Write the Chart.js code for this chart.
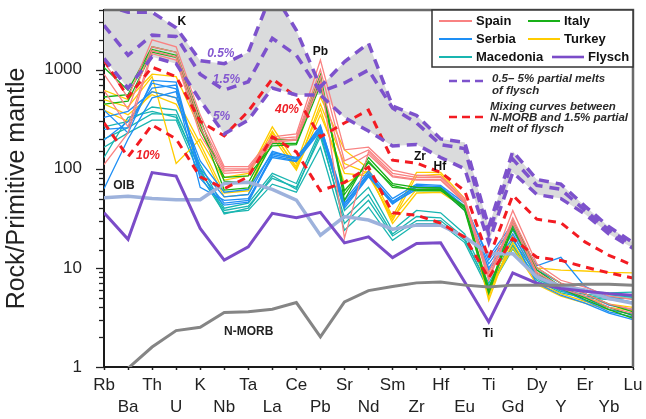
<!DOCTYPE html>
<html>
<head>
<meta charset="utf-8">
<script src="https://cdn.jsdelivr.net/npm/chart.js@4.4.1/dist/chart.umd.min.js"></script>
<style>
  html, body { margin: 0; padding: 0; background: #ffffff; }
  #wrap { width: 646px; height: 419px; }
</style>
</head>
<body>
<div id="wrap"><canvas id="spider" width="646" height="419"></canvas></div>
<script>
// Element order of the primitive-mantle normalised spider diagram
const elements = ['Rb','Ba','Th','U','K','Nb','Ta','La','Ce','Pb','Sr','Nd','Sm','Zr','Hf','Eu','Ti','Gd','Dy','Y','Er','Yb','Lu'];
const yTickLabels = [1, 10, 100, 1000];

// Sample analyses (Rock / Primitive mantle)
const spain = [
  [1200, 520, 2000, 1700, 350, 105, 105, 210, 225, 1250, 155, 165, 97, 86, 84, 50, 8.8, 38, 11, 7.5, 6.4, 5.2, 4.8],
  [900, 400, 1700, 1500, 300, 100, 100, 200, 210, 1000, 120, 155, 90, 82, 82, 48, 8, 32, 10, 7, 6, 4.8, 4.4],
  [620, 265, 1550, 1350, 260, 95, 98, 190, 200, 850, 20, 148, 85, 78, 78, 46, 7.5, 30, 9, 6.5, 5.5, 4.3, 3.8],
  [110, 230, 1450, 1250, 220, 90, 93, 185, 195, 740, 100, 140, 83, 77, 77, 45, 8.2, 28, 8.5, 6.2, 5.2, 4, 3.5]
];
const italy = [
  [1050, 620, 1700, 1500, 320, 75, 72, 200, 195, 890, 48, 130, 71, 65, 64, 40, 5.9, 30, 10, 7, 5.5, 4.3, 3.6],
  [530, 560, 1600, 1400, 280, 61, 64, 180, 180, 800, 55, 120, 65, 62, 62, 38, 5.5, 27, 9.5, 6.5, 5, 4, 3.3],
  [450, 480, 1500, 1330, 250, 82, 85, 170, 175, 700, 60, 115, 68, 60, 60, 42, 6.2, 25, 9, 6.2, 4.8, 3.8, 3.1]
];
const serbia = [
  [390, 230, 780, 750, 90, 45, 48, 140, 125, 275, 45, 90, 46, 68, 66, 42, 13, 28, 10.5, 12.8, 6.5, 5, 4.5],
  [195, 300, 650, 700, 80, 43, 46, 135, 120, 250, 42, 85, 44, 65, 64, 40, 11, 24, 8.5, 6.2, 5, 3.8, 3.4],
  [63, 200, 520, 600, 65, 48, 50, 130, 118, 240, 40, 83, 45, 62, 62, 38, 9.5, 20, 7, 5.3, 4.4, 3.5, 3],
  [330, 380, 600, 520, 120, 58, 62, 145, 130, 265, 48, 95, 50, 70, 68, 45, 12, 26, 9.5, 7, 5.5, 4.2, 3.8],
  [250, 260, 730, 640, 100, 52, 55, 150, 127, 255, 44, 88, 47, 66, 65, 41, 10, 22, 8, 6, 4.7, 3.6, 3.2]
];
const turkey = [
  [620, 500, 900, 850, 250, 82, 90, 265, 113, 530, 155, 100, 33, 92, 92, 50, 5, 28, 10, 9.5, 9.3, 9, 8.9],
  [500, 420, 850, 113, 200, 77, 85, 240, 100, 450, 113, 90, 30, 85, 88, 46, 4.7, 22, 8, 6, 5, 4.3, 4],
  [390, 300, 600, 520, 180, 57, 60, 230, 105, 400, 71, 95, 28, 57, 58, 40, 5.5, 18, 7, 5.5, 4.6, 4, 3.7],
  [450, 350, 560, 450, 160, 52, 55, 210, 97, 350, 90, 85, 32, 62, 64, 42, 6, 16, 6.8, 5.2, 4.4, 3.8, 3.4]
];
const macedonia = [
  [265, 300, 420, 390, 110, 40, 45, 90, 71, 245, 38, 65, 24, 38, 36, 22, 7, 19, 8.5, 6.5, 5.8, 5.6, 5.7],
  [200, 260, 360, 350, 95, 38, 42, 80, 65, 210, 32, 55, 22, 33, 32, 20, 6.3, 17, 8, 6, 5.4, 5.2, 5.4],
  [165, 230, 310, 310, 85, 36, 38, 70, 58, 165, 24, 41, 19, 28, 28, 18, 5.9, 15.5, 7.5, 5.6, 5, 4.8, 5],
  [130, 330, 380, 330, 100, 35, 40, 85, 62, 230, 28, 48, 21, 30, 30, 19, 6.6, 16.5, 7.8, 5.8, 5.2, 5, 5.2]
];
const flysch = [36, 19.4, 91.5, 84.5, 25, 12, 16.3, 35.5, 32, 36.3, 17.9, 20.6, 12.7, 17.6, 17.9, 7.2, 2.85, 8.9, 7, 6.2, 5.8, 5.5, 5.3];

// Reference compositions
const nMorb = [0.56, 0.97, 1.59, 2.33, 2.52, 3.55, 3.6, 3.83, 4.47, 2.01, 4.53, 5.9, 6.5, 7.06, 7.2, 6.7, 6.4, 6.7, 6.7, 6.7, 6.85, 6.85, 6.7];
const oib = [51, 52.7, 50.1, 48.8, 48.8, 71, 73, 62, 48.3, 21.4, 33, 30.4, 24.6, 27, 27, 20.5, 13.9, 13.9, 8.1, 6.5, 6.0, 4.9, 4.4];

// Partial melts of flysch (0.5 %, 1.5 %, 5 %)
const melt05 = [4500, 3800, 3800, 2650, 1230, 1150, 1500, 6200, 2500, 670, 1200, 1850, 430, 345, 200, 185, 26, 150, 78, 70, 42, 26, 18];
const melt15 = [2800, 1400, 2230, 2160, 900, 623, 756, 2075, 1400, 600, 734, 993, 410, 290, 175, 160, 22, 125, 68, 62, 38, 24, 17];
const melt5  = [1300, 650, 1350, 1150, 490, 225, 310, 653, 555, 555, 330, 240, 170, 176, 130, 100, 18, 92, 55, 50, 35, 22, 15.8];

// Mixing curves N-MORB + 1.5 % flysch melt
const mix40 = [1250, 530, 1060, 850, 300, 215, 380, 810, 530, 210, 290, 392, 122, 114, 92, 60, 12.5, 54, 31, 28.5, 18.3, 13.4, 10.6];
const mix10 = [290, 132, 277, 200, 83, 63, 83, 210, 148, 60, 73, 104, 36, 34, 28.3, 20.4, 7.9, 19.8, 12.8, 11.9, 10.2, 8.9, 7.9];

const FONT = '"Liberation Sans", Arial, Helvetica, sans-serif';
const COLORS = {
  Spain: '#f98282', Italy: '#18b018', Serbia: '#1e8ff5', Turkey: '#ffcc00',
  Macedonia: '#19b5b0', Flysch: '#7b4cc8', melt: '#7d52cc', mix: '#f31b22',
  nmorb: '#858585', oib: '#9db2dc', band: '#dadbdc'
};

const datasets = [];
function addGroup(rows, name) {
  rows.forEach(r => datasets.push({
    data: r, borderColor: COLORS[name], borderWidth: 1.3, order: 10, clip: 0, fill: false
  }));
}
addGroup(spain, 'Spain');
addGroup(italy, 'Italy');
addGroup(serbia, 'Serbia');
addGroup(turkey, 'Turkey');
addGroup(macedonia, 'Macedonia');

datasets.push({ data: oib, borderColor: COLORS.oib, borderWidth: 3.5, order: 5, clip: 0, fill: false });
datasets.push({ data: mix40, borderColor: COLORS.mix, borderWidth: 3, borderDash: [8, 6], order: 4, clip: 0, fill: false });
datasets.push({ data: mix10, borderColor: COLORS.mix, borderWidth: 3, borderDash: [8, 6], order: 4, clip: 0, fill: false });
const idx5 = datasets.length + 2;
datasets.push({ data: melt05, borderColor: COLORS.melt, borderWidth: 3.5, borderDash: [10, 7], order: 3, clip: 0,
  fill: { target: idx5 }, backgroundColor: COLORS.band });
datasets.push({ data: melt15, borderColor: COLORS.melt, borderWidth: 3.5, borderDash: [10, 7], order: 3, clip: 0, fill: false });
datasets.push({ data: melt5, borderColor: COLORS.melt, borderWidth: 3.5, borderDash: [10, 7], order: 3, clip: 0, fill: false });
datasets.push({ data: flysch, borderColor: COLORS.Flysch, borderWidth: 3, order: 2, clip: 0, fill: false });
datasets.push({ data: nMorb, borderColor: COLORS.nmorb, borderWidth: 3, order: 1, clip: 0, fill: false });

// In-plot labels, placed in data space (category index, value)
const notes = [
  { t: 'K', i: 3.24, v: 3055, c: '#111', f: 'bold 12px' },
  { t: 'Pb', i: 9.0, v: 1510, c: '#111', f: 'bold 12px' },
  { t: 'Zr', i: 13.14, v: 131, c: '#111', f: 'bold 12px' },
  { t: 'Hf', i: 13.97, v: 104, c: '#111', f: 'bold 12px' },
  { t: 'Ti', i: 15.97, v: 2.19, c: '#111', f: 'bold 12px' },
  { t: 'OIB', i: 0.83, v: 66.9, c: '#222', f: 'bold 12px' },
  { t: 'N-MORB', i: 6.02, v: 2.26, c: '#222', f: 'bold 12px' },
  { t: '0.5%', i: 4.86, v: 1458, c: '#8458d0', f: 'italic bold 12px' },
  { t: '1.5%', i: 5.09, v: 787, c: '#8458d0', f: 'italic bold 12px' },
  { t: '5%', i: 4.89, v: 333, c: '#8458d0', f: 'italic bold 12px' },
  { t: '40%', i: 7.61, v: 392, c: '#ee2027', f: 'italic bold 12px' },
  { t: '10%', i: 1.83, v: 137, c: '#ee2027', f: 'italic bold 12px' }
];

const legendRows = [
  [['Spain', COLORS.Spain, 2], ['Italy', COLORS.Italy, 2]],
  [['Serbia', COLORS.Serbia, 2], ['Turkey', COLORS.Turkey, 2]],
  [['Macedonia', COLORS.Macedonia, 2], ['Flysch', COLORS.Flysch, 2.6]]
];

const isDecade = v => { const l = Math.log10(v); return Math.abs(l - Math.round(l)) < 1e-9; };

const decorPlugin = {
  id: 'decor',
  afterDraw(chart) {
    const ctx = chart.ctx, a = chart.chartArea;
    const xs = chart.scales.x, ys = chart.scales.y;
    ctx.save();

    // frame: top and right edges
    ctx.strokeStyle = '#6a6a6a';
    ctx.lineWidth = 2.5;
    ctx.beginPath();
    ctx.moveTo(a.left, a.top); ctx.lineTo(a.right, a.top); ctx.lineTo(a.right, a.bottom);
    ctx.stroke();

    // y tick marks (major and minor), outside the axis
    ctx.strokeStyle = '#222';
    ctx.lineWidth = 1.3;
    ys.ticks.forEach(t => {
      const y = Math.round(ys.getPixelForValue(t.value)) + 0.5;
      if (y < a.top - 1 || y > a.bottom + 1) return;
      const len = isDecade(t.value) ? 8 : 5;
      ctx.beginPath(); ctx.moveTo(a.left - len, y); ctx.lineTo(a.left, y); ctx.stroke();
    });

    // in-plot labels
    ctx.textAlign = 'center';
    ctx.textBaseline = 'middle';
    notes.forEach(n => {
      ctx.font = n.f + ' ' + FONT;
      ctx.fillStyle = n.c;
      ctx.fillText(n.t, xs.getPixelForValue(n.i), ys.getPixelForValue(n.v));
    });

    // legend box
    const bw = 201, bh = 57;
    const bx = a.right - bw, by = a.top;
    ctx.fillStyle = '#ffffff';
    ctx.fillRect(bx, by, bw, bh);
    ctx.strokeStyle = '#333';
    ctx.lineWidth = 1.5;
    ctx.strokeRect(bx, by, bw, bh);
    ctx.textAlign = 'left';
    ctx.font = 'bold 13px ' + FONT;
    const cols = [[7, 40, 44], [96, 128, 132]];
    legendRows.forEach((row, r) => {
      const y = by + 11 + r * 18;
      row.forEach((e, c) => {
        let [x0, x1, tx] = cols[c];
        if (r === 2 && c === 1) { x0 = 120; x1 = 152; tx = 156; }
        ctx.strokeStyle = e[1]; ctx.lineWidth = e[2];
        ctx.beginPath(); ctx.moveTo(bx + x0, y); ctx.lineTo(bx + x1, y); ctx.stroke();
        ctx.fillStyle = '#111';
        ctx.fillText(e[0], bx + tx, y + 0.5);
      });
    });

    // model curve keys
    ctx.setLineDash([8, 5]);
    ctx.lineWidth = 2.5;
    ctx.strokeStyle = COLORS.melt;
    ctx.beginPath(); ctx.moveTo(bx + 17, by + 71); ctx.lineTo(bx + 52, by + 71); ctx.stroke();
    ctx.strokeStyle = COLORS.mix;
    ctx.beginPath(); ctx.moveTo(bx + 17, by + 107); ctx.lineTo(bx + 52, by + 107); ctx.stroke();
    ctx.setLineDash([]);
    ctx.font = 'italic bold 11.5px ' + FONT;
    ctx.fillStyle = '#2a2a2a';
    ctx.fillText('0.5\u2013 5% partial melts', bx + 60, by + 69);
    ctx.fillText('of flysch', bx + 60, by + 81);
    ctx.fillText('Mixing curves between', bx + 58, by + 97);
    ctx.fillText('N-MORB and 1.5% partial', bx + 58, by + 108);
    ctx.fillText('melt of flysch', bx + 58, by + 119);

    ctx.restore();
  }
};

new Chart(document.getElementById('spider'), {
  type: 'line',
  data: { labels: elements, datasets },
  options: {
    responsive: false,
    animation: false,
    devicePixelRatio: 1,
    layout: { padding: { top: 10, right: 13, left: 0, bottom: 0 } },
    elements: { point: { radius: 0 }, line: { tension: 0 } },
    plugins: {
      legend: { display: false },
      tooltip: { enabled: false },
      filler: { drawTime: 'beforeDatasetsDraw' }
    },
    scales: {
      x: {
        type: 'category',
        offset: false,
        grid: { display: true, drawOnChartArea: false, drawTicks: true, tickLength: 3, tickColor: '#222', tickWidth: 1.5, offset: false },
        border: { color: '#1a1a1a', width: 2 },
        ticks: {
          autoSkip: false, maxRotation: 0, minRotation: 0, padding: 4, color: '#222',
          font: { family: FONT, size: 17, lineHeight: 1.32 },
          callback: (v, i) => (i % 2 === 0 ? elements[i] : ['', elements[i]])
        },
        afterFit: s => { s.height = 52; s.paddingLeft = 0; s.paddingRight = 0; }
      },
      y: {
        type: 'logarithmic',
        min: 1,
        max: 4000,
        grid: { display: true, drawOnChartArea: false, drawTicks: false },
        border: { color: '#1a1a1a', width: 2 },
        ticks: {
          autoSkip: false, padding: 22, color: '#222',
          font: { family: FONT, size: 17 },
          callback: v => (yTickLabels.includes(Math.round(v)) && isDecade(v) ? String(Math.round(v)) : '')
        },
        title: {
          display: true, text: 'Rock/Primitive mantle', color: '#222',
          font: { family: FONT, size: 25 }, padding: { top: 2, bottom: 0 }
        },
        afterFit: s => { s.width = 104; s.paddingTop = 0; s.paddingBottom = 0; }
      }
    }
  },
  plugins: [decorPlugin]
});
</script>
</body>
</html>
